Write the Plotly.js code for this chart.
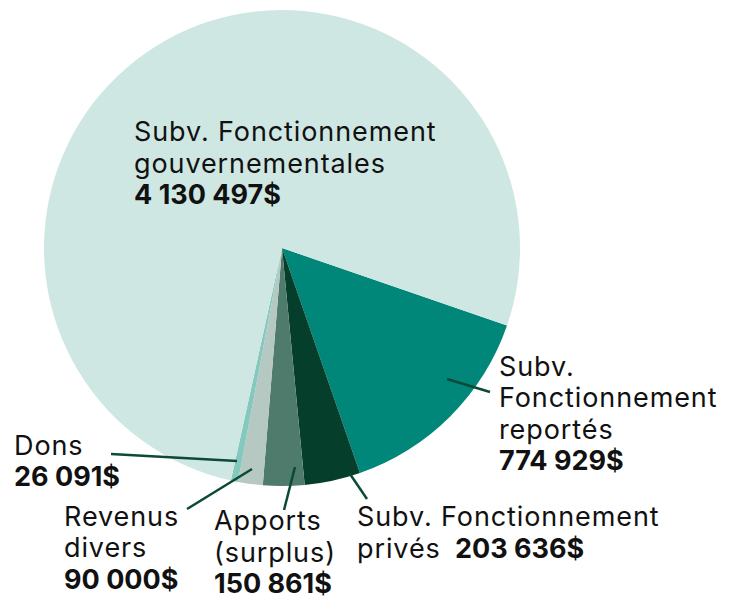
<!DOCTYPE html>
<html>
<head>
<meta charset="utf-8">
<script src="https://cdn.plot.ly/plotly-3.0.1.min.js"></script>
<style>
html,body{margin:0;padding:0;background:#fff;}
#chart{width:738px;height:601px;}
text.annotation-text{letter-spacing:0.9px;}
text.annotation-text tspan[style*="bold"]{letter-spacing:0px;}
</style>
</head>
<body>
<div id="chart"></div>
<script>
// Data (order: clockwise from "reportés")
const categories = [
  "Subv. Fonctionnement reportés",
  "Subv. Fonctionnement privés",
  "Apports (surplus)",
  "Revenus divers",
  "Dons",
  "Subv. Fonctionnement gouvernementales"
];
const values = [774929, 203636, 150861, 90000, 26091, 4130497];
const labelLines = [
  ["Subv.", "Fonctionnement", "reportés", "<b>774 929$</b>"],
  ["Subv. Fonctionnement", "privés&nbsp;&#8201;<b>203 636$</b>"],
  ["Apports", "(surplus)", "<b>150 861$</b>"],
  ["Revenus", "divers", "<b>90 000$</b>"],
  ["Dons", "<b>26 091$</b>"],
  ["Subv. Fonctionnement", "gouvernementales", "<b>4 130 497$</b>"]
];
const colors = ["#00877a", "#053f2b", "#4e7b6c", "#b6c8c2", "#84c8be", "#cfe7e3"];

const W = 738, H = 601;
const px = (x) => x / W;
const py = (y) => 1 - y / H;

const FS = 27, LINE = 31.5;
// label placement: [left x, first baseline y] in pixels
const labelPos = [[497, 376], [355, 526.5], [212, 530.5], [62, 526], [12, 455], [132, 141.7]];
// leader lines [x0,y0,x1,y1] in pixels; gouvernementales has none
const leaders = [
  [447, 379, 490, 392],
  [350, 474, 367, 499],
  [295, 467, 284, 510],
  [252, 469, 187, 509],
  [237, 461, 111, 454],
  null
];

const R = 238, CX = 282, CY = 248;

const trace = {
  type: "pie",
  labels: categories,
  values: values,
  sort: false,
  direction: "clockwise",
  rotation: 109,
  marker: { colors: colors, line: { width: 0 } },
  textinfo: "none",
  hoverinfo: "label+value",
  showlegend: false,
  domain: { x: [px(CX - R), px(CX + R)], y: [py(CY + R), py(CY - R)] }
};

const annotations = [];
labelLines.forEach((lines, i) => {
  lines.forEach((t, j) => {
    const baseline = labelPos[i][1] + j * LINE;
    annotations.push({
      text: t,
      x: px(labelPos[i][0]),
      y: py(baseline - 0.364 * FS),
      xref: "paper", yref: "paper",
      xanchor: "left", yanchor: "middle",
      align: "left",
      showarrow: false,
      font: { family: "Inter, Roboto, sans-serif", size: FS, color: "#111" }
    });
  });
});

const shapes = leaders.filter(l => l).map(l => ({
  type: "line", xref: "paper", yref: "paper",
  x0: px(l[0]), y0: py(l[1]), x1: px(l[2]), y1: py(l[3]),
  line: { color: "#0b4a36", width: 2.5 }
}));

Plotly.newPlot("chart", [trace], {
  width: W, height: H,
  margin: { l: 0, r: 0, t: 0, b: 0 },
  paper_bgcolor: "#fff",
  annotations: annotations,
  shapes: shapes
}, { displayModeBar: false, staticPlot: true });
</script>
</body>
</html>
